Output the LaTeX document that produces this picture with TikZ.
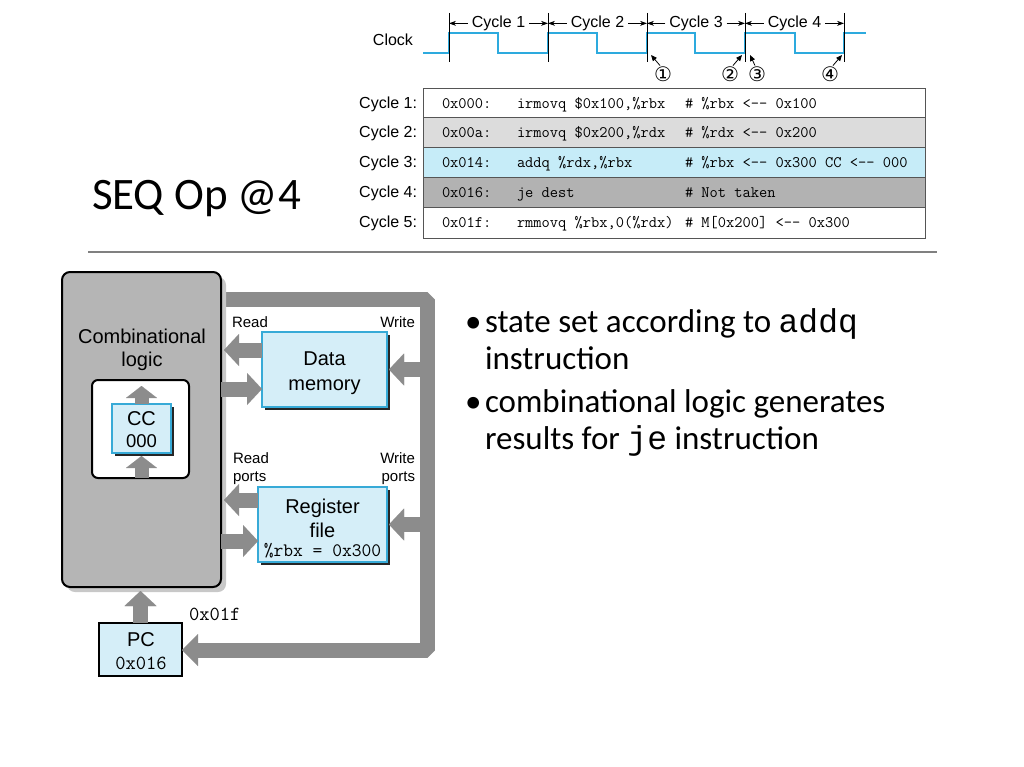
\documentclass[tikz,border=0pt]{standalone}
\usepackage{fontspec}
\usetikzlibrary{arrows.meta,shadows,calc}
\newfontfamily\helv{Liberation Sans}
\newfontfamily\calib{Carlito}
\newfontfamily\cour{Liberation Mono}
\newfontfamily\djv{DejaVu Sans}
\newcommand\fsz[1]{\fontsize{#1}{#1}\selectfont}
\newcommand\lar{<-\kern0pt-}
\definecolor{clk}{RGB}{45,170,222}
\definecolor{busgray}{RGB}{140,140,140}
\definecolor{combgray}{RGB}{181,181,181}
\definecolor{combshadow}{RGB}{200,200,200}
\definecolor{boxfill}{RGB}{213,238,248}
\definecolor{boxborder}{RGB}{55,170,215}
\definecolor{rowB}{RGB}{220,220,220}
\definecolor{rowC}{RGB}{198,236,248}
\definecolor{rowD}{RGB}{178,178,178}
\definecolor{tblline}{RGB}{85,85,85}
\definecolor{rulegray}{RGB}{128,128,128}
\begin{document}
\begin{tikzpicture}[x=1pt,y=-1pt,
  every node/.style={inner sep=0pt, outer sep=0pt},
  lab/.style={font=\helv\fsz{16}},
  small/.style={font=\helv\fsz{15}},
  mid/.style={font=\helv\fsz{20}},
  code/.style={font=\ttfamily\fsz{16}},
  bigtt/.style={font=\ttfamily\fsz{19}},
  bul/.style={font=\calib\fsz{33}},
  circnum/.style={font=\djv\fsz{20}},
  clockline/.style={draw=clk, line width=2pt},
  tick/.style={draw=black, line width=0.8pt},
  thinarr/.style={draw=black, line width=0.8pt, -{Stealth[length=7pt,width=5pt]}},
  numarr/.style={draw=black, line width=0.8pt, -{Triangle[length=6pt,width=5pt]}},
  fat/.style={draw=busgray, line width=15pt, -{Triangle[length=15pt,width=32pt,line width=0.01pt]}},
  ccfat/.style={draw=busgray, line width=14pt, -{Triangle[length=12pt,width=31pt,line width=0.01pt]}},
  bus/.style={draw=busgray, line width=15pt, line join=bevel, -{Triangle[length=16pt,width=32pt,line width=0.01pt]}},
  bluebox/.style={fill=boxfill, draw=boxborder, line width=1.2pt,
     general shadow={shadow xshift=2.5pt, shadow yshift=-2.5pt, fill=black!85}},
]
\useasboundingbox (0,0) rectangle (1024,767);
\fill[white] (0,0) rectangle (1024,767);

% ---------------- clock ----------------
\node[lab, anchor=base east] (clklab) at (413,46) {Clock};
\draw[clockline] (423,53) -- (449,53) -- (449,33) -- (498,33) -- (498,53) -- (548,53)
  -- (548,33) -- (597,33) -- (597,53) -- (647,53) -- (647,33) -- (695,33) -- (695,53)
  -- (745,53) -- (745,33) -- (795,33) -- (795,53) -- (844,53) -- (844,33) -- (866,33);
\foreach \x/\n in {449/0,548/1,647/2,745/3,844/4}{
  \draw[tick] (\x,13) -- (\x,62);
  \coordinate (e\n) at (\x,22);
}
\foreach \i/\a/\b in {1/0/1,2/1/2,3/2/3,4/3/4}{
  \node[lab, inner xsep=4pt, anchor=base] (cyc\i) at ($(e\a)!0.5!(e\b)+(0,5.5)$) {Cycle \i};
  \draw[thinarr] (cyc\i.west) -- (e\a |- cyc\i.west);
  \draw[thinarr] (cyc\i.east) -- (e\b |- cyc\i.east);
}
\node[circnum] (n1) at (663,74) {①};
\node[circnum] (n2) at (730,74) {②};
\node[circnum] (n3) at (757,74) {③};
\node[circnum] (n4) at (830,74) {④};
\coordinate (t1) at (651,55);
\coordinate (t2) at (742,55);
\coordinate (t3) at (750,55);
\coordinate (t4) at (842,55);
\draw[numarr] ($(n1.north)+(-3,-1)$) -- (t1);
\draw[numarr] ($(n2.north)+(3,-1)$) -- (t2);
\draw[numarr] ($(n3.north)+(-2,-1)$) -- (t3);
\draw[numarr] ($(n4.north)+(3,-1)$) -- (t4);

% ---------------- table ----------------
\fill[rowB] (423,118) rectangle (925,148);
\fill[rowC] (423,148) rectangle (925,178);
\fill[rowD] (423,178) rectangle (925,208);
\draw[tblline, line width=1pt] (423,118) -- (925,118) (423,148) -- (925,148)
  (423,178) -- (925,178) (423,208) -- (925,208);
\draw[tblline, line width=1pt] (423,89) rectangle (925,238);
\foreach \r/\y/\ad/\ins/\com in {
  1/109/0x000:/{irmovq \$0x100,\%rbx}/{\# \%rbx \lar{} 0x100},
  2/138/0x00a:/{irmovq \$0x200,\%rdx}/{\# \%rdx \lar{} 0x200},
  3/168/0x014:/{addq \%rdx,\%rbx}/{\# \%rbx \lar{} 0x300 CC \lar{} 000},
  4/198/0x016:/{je dest}/{\# Not taken},
  5/228/0x01f:/{rmmovq \%rbx,0(\%rdx)}/{\# M[0x200] \lar{} 0x300}}{
  \node[lab, anchor=base east] (cl\r) at (417,\y) {Cycle \r:};
  \node[code, anchor=base west] (ad\r) at (442,\y) {\ad};
  \node[code, anchor=base west] (in\r) at (517,\y) {\ins};
  \node[code, anchor=base west] (cm\r) at (685,\y) {\com};
}

% ---------------- title & rule ----------------
\node[font=\calib\fsz{45}, anchor=base west] (title) at (92,210) {SEQ Op @4};
\draw[rulegray, line width=2pt] (88,252) -- (937,252);

% ---------------- bullets ----------------
\node[bul, anchor=base west] (b1) at (465,332) {•};
\node[bul, anchor=base west] (l1) at (485,332) {state set according to {\cour addq}};
\node[bul, anchor=base west] (l2) at (485,369) {instruction};
\node[bul, anchor=base west] (b2) at (465,412) {•};
\node[bul, anchor=base west] (l3) at (485,412) {combinational logic generates};
\node[bul, anchor=base west] (l4) at (485,449) {results for {\cour je} instruction};

% ---------------- diagram ----------------
\node[fill=boxfill, draw=black, line width=2.5pt, minimum width=83pt, minimum height=53pt] (pc) at (140.5,649.5) {};
\node[mid, anchor=base] (pct) at (141,646) {PC};
\node[font=\ttfamily\fsz{20}, anchor=base] (pcv) at (141,669) {0x016};
\node[font=\ttfamily\fsz{20}, anchor=base west] (npc) at (189,620) {0x01f};

\coordinate (busS) at (215,299.5);
\coordinate (busC1) at (427,299.5);
\coordinate (busC2) at (427,650);
\draw[bus] (busS) -- (busC1) -- (busC2) -- (busC2 -| pc.east);

\node[fill=combgray, draw=black, line width=2pt, rounded corners=8pt,
      minimum width=159pt, minimum height=315pt,
      general shadow={shadow xshift=5pt, shadow yshift=-5pt, fill=combshadow}] (comb) at (141.5,429.5) {};
\node[mid, anchor=base] (ct1) at (142,343) {Combinational};
\node[mid, anchor=base] (ct2) at (142,366) {logic};

\node[fill=white, draw=black, line width=2pt, rounded corners=6pt,
      minimum width=97pt, minimum height=98pt] (inner) at (140.5,429) {};
\node[bluebox, minimum width=59pt, minimum height=49pt] (cc) at (141.5,428.5) {};
\node[mid, anchor=base] (cct) at (141.5,425) {CC};
\node[font=\helv\fsz{18.5}, anchor=base] (ccv) at (141.5,447) {000};
\draw[ccfat] (cc.north) -- ($(cc.north |- inner.north)+(0,6)$);
\draw[ccfat] (cc.south |- inner.south) -- ($(cc.south)+(0,3)$);

\node[bluebox, minimum width=125pt, minimum height=75pt] (dm) at (324.5,369.5) {};
\node[mid, anchor=base] (dmt1) at (324.5,365) {Data};
\node[mid, anchor=base] (dmt2) at (324.5,390) {memory};

\node[bluebox, minimum width=129pt, minimum height=75pt] (rf) at (322.5,524.5) {};
\node[mid, anchor=base] (rft1) at (322.5,513) {Register};
\node[mid, anchor=base] (rft2) at (322.5,537) {file};
\node[bigtt, anchor=base] (rft3) at (322.5,556) {\%rbx = 0x300};

\node[small, anchor=base west] (rd1) at (232,327) {Read};
\node[small, anchor=base east] (wr1) at (415,327) {Write};
\node[small, anchor=base west] (rd2) at (233,463) {Read};
\node[small, anchor=base west] (rd3) at (233,481) {ports};
\node[small, anchor=base east] (wr2) at (415,463) {Write};
\node[small, anchor=base east] (wr3) at (415,481) {ports};

\coordinate (dmr) at ($(dm.west)+(0,-19.5)$);
\coordinate (dmw) at ($(dm.west)+(0,19.5)$);
\draw[fat] (dmr) -- ($(comb.east |- dmr)+(3,0)$);
\draw[fat] (comb.east |- dmw) -- (dmw);
\draw[fat] (busC1 |- dm.east) -- ($(dm.east)+(2,0)$);

\coordinate (rfr) at ($(rf.west)+(0,-24.5)$);
\coordinate (rfw) at ($(rf.west)+(0,16.5)$);
\draw[fat] (rfr) -- ($(comb.east |- rfr)+(3,0)$);
\draw[fat] (comb.east |- rfw) -- (rfw);
\draw[fat] (busC1 |- rf.east) -- ($(rf.east)+(2,0)$);

\draw[fat] (pc.north) -- ($(pc.north |- comb.south)+(0,4)$);
\end{tikzpicture}
\end{document}
